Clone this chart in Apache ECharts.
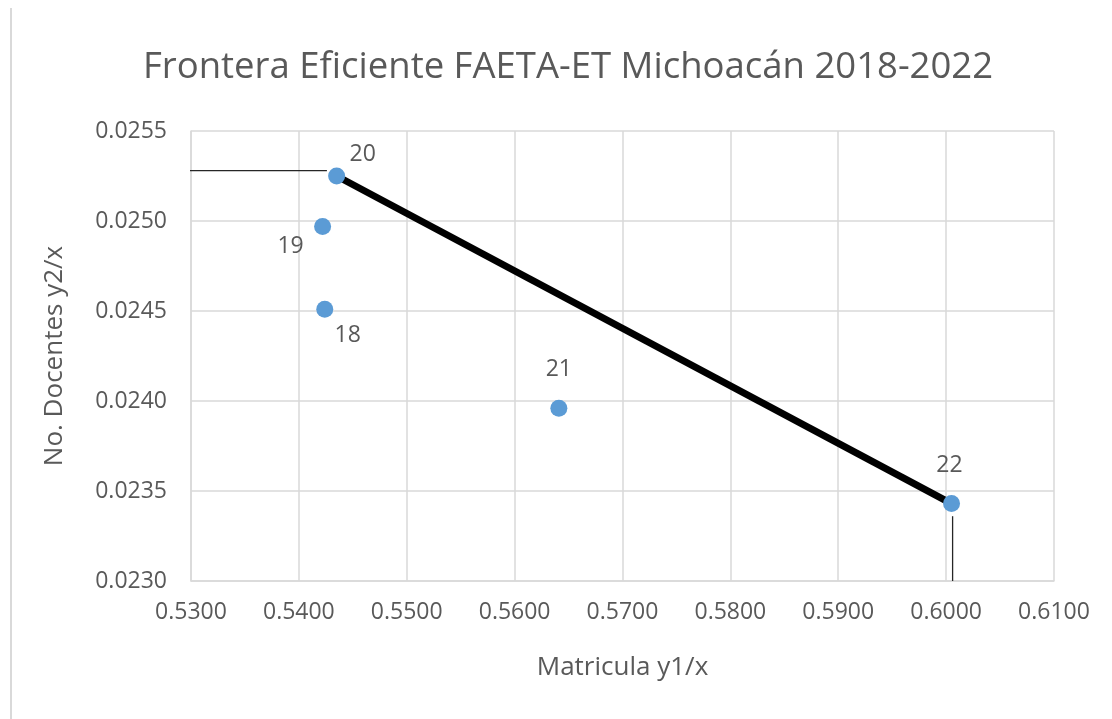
<!DOCTYPE html>
<html>
<head>
<meta charset="utf-8">
<script src="https://cdn.jsdelivr.net/npm/echarts@6/dist/echarts.min.js"></script>
<style>
  html, body { margin: 0; padding: 0; background: #fff; }
  #chart { width: 1112px; height: 719px; }
</style>
</head>
<body>
<div id="chart"></div>
<script>
// years (labels) and the two ratios
let years = ["18", "19", "20", "21", "22"];
let matricula = [0.5424, 0.5422, 0.5435, 0.5641, 0.6005];
let docentes = [0.02451, 0.02497, 0.02525, 0.02396, 0.02343];

// frontier goes from year 20 to year 22
let frontier = [2, 4];

// thin guide lines drawn by hand in the original
let guideH = [[0.5296, 0.02528], [0.5426, 0.02528]];
let guideV = [[0.6006, 0.02336], [0.6006, 0.0230]];

// label offsets around each point (Excel placed them by hand)
let labelOffsets = [[23, 26], [-32, 20], [26, -22], [0, -39], [-2, -38]];

let font = "'Open Sans', sans-serif";
let grey = "#595959";

let chart = echarts.init(document.getElementById("chart"));

let points = years.map((y, i) => ({
  value: [matricula[i], docentes[i]],
  label: { offset: labelOffsets[i] }
}));

chart.setOption({
  animation: false,
  title: {
    text: "Frontera Eficiente FAETA-ET Michoacán 2018-2022",
    left: 138,
    top: 44,
    textStyle: { fontFamily: font, fontSize: 36.5, fontWeight: "normal", color: grey }
  },
  grid: { left: 191, right: 58, top: 131, bottom: 138 },
  xAxis: {
    type: "value",
    min: 0.53,
    max: 0.61,
    interval: 0.01,
    name: "Matricula y1/x",
    nameLocation: "middle",
    nameGap: 74,
    nameTextStyle: { fontFamily: font, fontSize: 26, color: grey },
    axisLine: { show: true, lineStyle: { color: "#d9d9d9", width: 1.5 } },
    axisTick: { show: false },
    axisLabel: {
      fontFamily: font, fontSize: 23, color: grey, margin: 20,
      formatter: (v) => v.toFixed(4)
    },
    splitLine: { lineStyle: { color: "#d9d9d9", width: 1.5 } }
  },
  yAxis: {
    type: "value",
    min: 0.023,
    max: 0.0255,
    interval: 0.0005,
    name: "No. Docentes y2/x",
    nameLocation: "middle",
    nameGap: 123,
    nameTextStyle: { fontFamily: font, fontSize: 26, color: grey },
    axisLine: { show: true, lineStyle: { color: "#d9d9d9", width: 1.5 } },
    axisTick: { show: false },
    axisLabel: {
      fontFamily: font, fontSize: 23, color: grey, margin: 24,
      formatter: (v) => v.toFixed(4)
    },
    splitLine: { lineStyle: { color: "#d9d9d9", width: 1.5 } }
  },
  graphic: [{
    type: "line",
    shape: { x1: 11, y1: 8, x2: 11, y2: 719 },
    style: { stroke: "#d9d9d9", lineWidth: 2 }
  }],
  series: [
    {
      type: "line",
      data: frontier.map((i) => [matricula[i], docentes[i]]),
      symbol: "none",
      lineStyle: { color: "#000", width: 7 },
      z: 2
    },
    {
      type: "line",
      data: guideH,
      symbol: "none",
      clip: false,
      lineStyle: { color: "#262626", width: 1.3 },
      z: 2
    },
    {
      type: "line",
      data: guideV,
      symbol: "none",
      clip: false,
      lineStyle: { color: "#262626", width: 1.3 },
      z: 2
    },
    {
      type: "scatter",
      data: points,
      symbolSize: 17,
      itemStyle: { color: "#5b9bd5", opacity: 1 },
      z: 3,
      label: {
        show: true,
        position: "inside",
        fontFamily: font,
        fontSize: 23,
        color: grey,
        formatter: (p) => years[p.dataIndex]
      }
    }
  ]
});
</script>
</body>
</html>
